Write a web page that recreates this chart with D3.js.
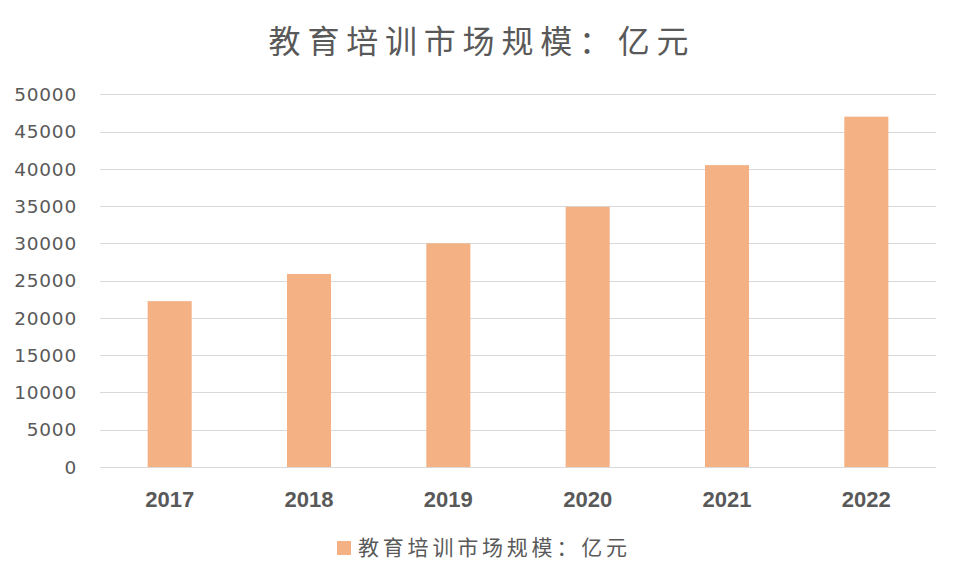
<!DOCTYPE html>
<html>

<head>
  <title>教育培训市场规模</title>
  <script src="https://cdn.jsdelivr.net/npm/d3@7/dist/d3.min.js"></script>
  <style>
    body { margin: 0; background: #fff; }
  </style>
</head>

<body>
  <svg width="959" height="582" id="mainsvg"></svg>
  <script>
    const years = ['2017', '2018', '2019', '2020', '2021', '2022'];
    const values = [22250, 25900, 30000, 34900, 40500, 47000];
    const yTicks = [0, 5000, 10000, 15000, 20000, 25000, 30000, 35000, 40000, 45000, 50000];
    const seriesName = '教育培训市场规模：亿元';

    const svg = d3.select('#mainsvg');
    const textColor = '#595959';
    const barColor = '#F4B183';
    const cjk = '"Noto Sans CJK SC", "Noto Sans", sans-serif';

    const plotLeft = 100, plotRight = 936, plotTop = 94.3, plotBottom = 467;

    const x = d3.scaleBand().domain(years).range([plotLeft, plotRight])
      .paddingInner(0.684).paddingOuter(0.342);
    const y = d3.scaleLinear().domain([0, 50000]).range([plotBottom, plotTop]);

    // gridlines
    svg.append('g')
      .selectAll('line').data(yTicks).join('line')
      .attr('x1', plotLeft).attr('x2', plotRight)
      .attr('y1', d => Math.round(y(d)) + 0.5)
      .attr('y2', d => Math.round(y(d)) + 0.5)
      .attr('stroke', '#d9d9d9')
      .attr('stroke-width', 1);

    // y labels
    svg.append('g')
      .selectAll('text').data(yTicks).join('text')
      .attr('x', 77)
      .attr('y', d => y(d))
      .attr('dy', '0.36em')
      .attr('text-anchor', 'end')
      .attr('fill', textColor)
      .style('font-family', '"DejaVu Sans", sans-serif')
      .style('font-size', '18.5px')
      .style('letter-spacing', '0.8px')
      .text(d => d);

    // bars
    svg.append('g')
      .selectAll('rect').data(values).join('rect')
      .attr('x', (d, i) => x(years[i]))
      .attr('y', d => y(d))
      .attr('width', x.bandwidth())
      .attr('height', d => y(0) - y(d))
      .attr('fill', barColor);

    // x labels
    svg.append('g')
      .selectAll('text').data(years).join('text')
      .attr('x', d => x(d) + x.bandwidth() / 2)
      .attr('y', 507)
      .attr('text-anchor', 'middle')
      .attr('fill', textColor)
      .style('font-family', '"Liberation Sans", Arial, sans-serif')
      .style('font-weight', 'bold')
      .style('font-size', '22px')
      .text(d => d);

    // title
    svg.append('text')
      .attr('x', 482)
      .attr('y', 53)
      .attr('text-anchor', 'middle')
      .attr('fill', textColor)
      .style('font-family', cjk)
      .style('font-size', '32px')
      .style('letter-spacing', '6.8px')
      .text(seriesName);

    // legend
    svg.append('rect')
      .attr('x', 337).attr('y', 541)
      .attr('width', 14).attr('height', 14)
      .attr('fill', barColor);
    svg.append('text')
      .attr('x', 358)
      .attr('y', 555)
      .attr('fill', textColor)
      .style('font-family', cjk)
      .style('font-size', '21px')
      .style('letter-spacing', '3.8px')
      .text(seriesName);
  </script>
</body>

</html>
